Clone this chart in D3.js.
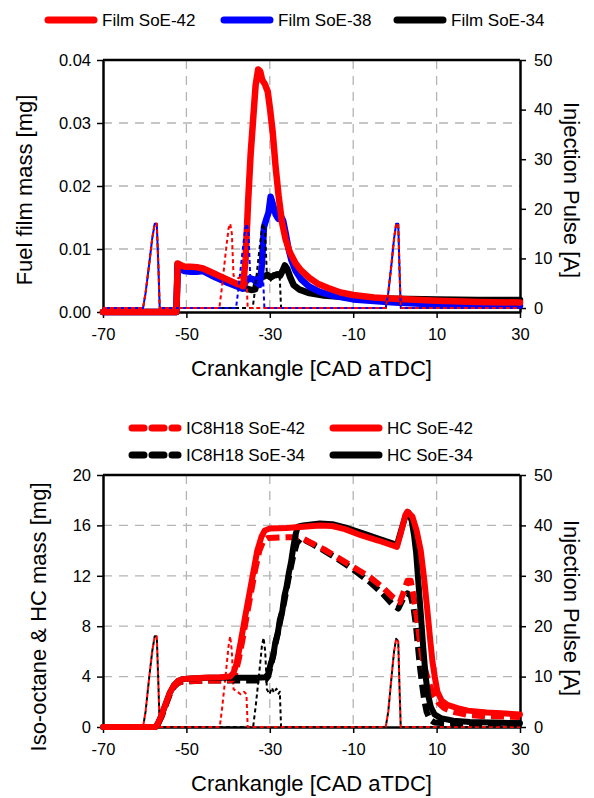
<!DOCTYPE html>
<meta charset="utf-8">
<script src="https://d3js.org/d3.v7.min.js"></script>
<style>
body { margin: 0; background: #fff; }
svg { font-family: "Liberation Sans", Arial, sans-serif; }
.tick text { font-size: 16.5px; fill: #000; }
.grid line { stroke: #b4b4b4; stroke-width: 1.3; stroke-dasharray: 9,7; }
.ttl { font-size: 22px; }
.leg { font-size: 17px; }
</style>
<svg width="594" height="798"></svg>
<script>

// ---------- top chart: fuel film mass [mg] vs crankangle ----------
var film42 = [[-70,0],[-52.4,0],[-52.1,0.0077],[-51.5,0.0075],[-50.5,0.0072],[-49,0.0072],[-47.5,0.0071],[-46,0.0069],[-44,0.0063],[-42,0.0057],[-40,0.0051],[-38,0.0045],[-36.4,0.0041],[-35.8,0.0085],[-35.2,0.0175],[-34.6,0.025],[-34,0.0305],[-33.4,0.036],[-32.8,0.0385],[-32.3,0.0382],[-31.8,0.0368],[-31.2,0.0362],[-30.5,0.035],[-29.9,0.032],[-29.3,0.0285],[-28.6,0.023],[-27.9,0.0185],[-27.1,0.0143],[-26.2,0.0115],[-25.2,0.0095],[-23.8,0.0077],[-22.5,0.0066],[-20.5,0.0054],[-18.5,0.0045],[-16,0.0038],[-13,0.0031],[-10,0.0027],[-5,0.0023],[0,0.0021],[10,0.0018],[20,0.0016],[30,0.0015]];
var film38 = [[-70,0],[-52.4,0],[-52.1,0.0072],[-51.5,0.0068],[-50.5,0.0065],[-49,0.0064],[-47.5,0.0064],[-46,0.0065],[-44,0.0058],[-42,0.0052],[-40,0.0046],[-38,0.0041],[-36.5,0.0037],[-35.8,0.0048],[-35,0.0053],[-34,0.0052],[-33.2,0.0047],[-32.4,0.0043],[-31.9,0.0075],[-31.4,0.0135],[-30.8,0.0148],[-30.3,0.0158],[-29.8,0.0183],[-29.3,0.0172],[-28.6,0.0155],[-28,0.0148],[-27.4,0.0153],[-26.8,0.0145],[-26.2,0.0125],[-25.5,0.01],[-24.8,0.0082],[-23.8,0.0065],[-22.5,0.0052],[-20.5,0.004],[-18,0.0032],[-15,0.0026],[-10,0.002],[0,0.0015],[10,0.0012],[20,0.0011],[30,0.001]];
var film34 = [[-70,0],[-52.4,0],[-52.1,0.0076],[-51.5,0.0074],[-50.5,0.0071],[-49,0.0071],[-47.5,0.007],[-46,0.0068],[-44,0.0062],[-42,0.0056],[-40,0.005],[-38,0.0044],[-36,0.0038],[-34.5,0.0035],[-33.5,0.0036],[-33,0.0052],[-32.4,0.0058],[-31.5,0.0056],[-30.6,0.0059],[-29.8,0.0055],[-29,0.0058],[-28.2,0.006],[-27.5,0.0058],[-26.9,0.0066],[-26.4,0.0074],[-25.8,0.0068],[-25.1,0.0055],[-24.3,0.0043],[-23,0.0036],[-20.5,0.003],[-17,0.0026],[-13,0.0024],[-8,0.0022],[0,0.0021],[10,0.002],[20,0.0019],[30,0.0019]];

// injection pulse [A]
var pulse42T = [[-70,0],[-60.4,0],[-59.8,3],[-58.9,9],[-58.2,14],[-57.6,17],[-57.1,17],[-56.7,8],[-56.4,0],[-42.1,0],[-41.5,4],[-40.6,11],[-39.9,16],[-39.5,17],[-39.1,15],[-38.7,6.5],[-37.5,6],[-36.5,6.5],[-35.6,6],[-35.3,0],[-2.2,0],[-1.6,3],[-0.8,9],[-0.2,14],[0.3,17],[0.8,17],[1.1,8],[1.4,0],[30,0]];
var pulse38T = [[-70,0],[-60.4,0],[-59.8,3],[-58.9,9],[-58.2,14],[-57.6,17],[-57.1,17],[-56.7,8],[-56.4,0],[-38.1,0],[-37.5,4],[-36.6,11],[-35.9,16],[-35.5,17],[-35.1,15],[-34.7,6.5],[-33.5,6],[-32.5,6.5],[-31.6,6],[-31.3,0],[-2.2,0],[-1.6,3],[-0.8,9],[-0.2,14],[0.3,17],[0.8,17],[1.1,8],[1.4,0],[30,0]];
var pulse34T = [[-70,0],[-60.4,0],[-59.8,3],[-58.9,9],[-58.2,14],[-57.6,17],[-57.1,17],[-56.7,8],[-56.4,0],[-34.1,0],[-33.5,4],[-32.6,11],[-31.9,16],[-31.5,17],[-31.1,15],[-30.7,6.5],[-29.8,5.5],[-29.2,7],[-28.6,6],[-28,6.8],[-27.6,6],[-27.3,0],[-2.2,0],[-1.6,3],[-0.8,9],[-0.2,14],[0.3,17],[0.8,17],[1.1,8],[1.4,0],[30,0]];

// ---------- bottom chart: iso-octane & HC mass [mg] ----------
var ic42 = [[-70,0],[-57.4,0],[-56.8,0.25],[-56,0.8],[-55,1.7],[-54,2.6],[-53,3.2],[-52,3.5],[-51,3.6],[-48,3.65],[-44,3.7],[-40,3.7],[-39,3.75],[-38.3,4.2],[-37.5,5.3],[-36.5,7],[-35.5,8.9],[-34.5,10.7],[-33.5,12.5],[-32.5,14],[-31.5,14.8],[-30.5,15],[-26,15.05],[-22.5,15.05],[-20,14.6],[-17,14.1],[-14,13.5],[-10,12.7],[-6,11.9],[-3,11.1],[-0.5,10.3],[1.2,9.9],[2.2,10.8],[3,11.6],[3.8,11.6],[4.5,10.3],[5.2,8.9],[6,6.8],[6.8,5.1],[7.8,3.9],[8.6,3.1],[9.4,2.5],[10.5,1.9],[11.8,1.5],[14,1.2],[17.5,0.95],[22,0.85],[30,0.8]];
var hc42 = [[-70,0],[-57.4,0],[-56.8,0.3],[-56,0.9],[-55,1.8],[-54,2.7],[-53,3.3],[-52,3.65],[-51,3.8],[-49,3.85],[-46,3.9],[-42,3.95],[-39.5,4],[-38.7,4.3],[-38,5],[-37,6.7],[-36,8.6],[-35,10.4],[-34,12.2],[-33,14],[-32,15.1],[-31.2,15.6],[-30,15.75],[-26,15.8],[-22,15.9],[-18,16],[-15,15.95],[-12,15.7],[-8,15.2],[-4,14.8],[0.5,14.3],[1.5,15.5],[2.5,16.8],[3,17.1],[4.2,16.7],[5.2,15.6],[6.2,14],[7,11.8],[7.8,9.2],[8.5,6.8],[9,5.2],[9.6,3.9],[10.2,2.8],[11.2,2.1],[12.6,1.75],[15,1.5],[17.5,1.3],[22,1.15],[30,1]];
var ic34 = [[-70,0],[-57.4,0],[-56.8,0.25],[-56,0.8],[-55,1.7],[-54,2.6],[-53,3.2],[-52,3.5],[-51,3.6],[-48,3.65],[-44,3.7],[-38,3.7],[-33,3.7],[-31,3.75],[-30.4,4],[-29.5,5.2],[-28.5,6.8],[-27.5,8.4],[-26.5,10],[-25.5,11.8],[-24.5,13.4],[-23.5,14.6],[-22.5,15],[-20,14.55],[-17,14],[-14,13.4],[-10,12.5],[-6,11.5],[-3,10.6],[-0.5,9.7],[0.8,9.4],[2,10.2],[3,10.6],[3.8,10.4],[4.4,9.6],[5,8.2],[5.5,6.5],[6,4.8],[6.5,3.4],[7,2.2],[7.6,1.2],[8.4,0.6],[9.5,0.35],[12,0.3],[30,0.3]];
var hc34 = [[-70,0],[-57.4,0],[-56.8,0.3],[-56,0.9],[-55,1.8],[-54,2.7],[-53,3.3],[-52,3.65],[-51,3.8],[-49,3.85],[-45,3.9],[-40,3.9],[-36,3.9],[-33,3.9],[-31,3.95],[-30.4,4.2],[-29.8,5],[-29.2,5.6],[-28.7,6.7],[-28.1,7.4],[-27.6,8.5],[-27,9.2],[-26.5,10.4],[-26,11.1],[-25.4,12.3],[-24.9,13.1],[-24.3,14.4],[-23.8,15.3],[-23.3,15.9],[-22,16],[-18,16.15],[-15,16.1],[-12,15.85],[-8,15.4],[-4,14.95],[0.5,14.45],[1.5,15.6],[2.5,16.7],[3.3,17],[4,16.4],[4.6,15.2],[5.1,13.8],[5.6,11.6],[6.2,9],[6.8,6.3],[7.4,3.9],[8,2.5],[8.6,1.6],[9.5,1],[11,0.7],[14,0.5],[18,0.4],[30,0.3]];

var pulse42B = [[-70,0],[-60.4,0],[-59.8,3],[-58.9,10],[-58.2,15],[-57.6,18],[-57.1,18],[-56.7,8],[-56.4,0],[-42,0],[-41.4,4],[-40.5,11],[-39.9,16],[-39.5,18],[-39.1,15],[-38.7,7.5],[-37.8,7],[-37,6.5],[-36.2,7],[-35.6,6.5],[-35.3,0],[-2.2,0],[-1.6,3],[-0.8,10],[-0.2,15],[0.3,17.5],[0.8,17],[1.1,8],[1.4,0],[30,0]];
var pulse34B = [[-70,0],[-60.4,0],[-59.8,3],[-58.9,10],[-58.2,15],[-57.6,18],[-57.1,18],[-56.7,8],[-56.4,0],[-34,0],[-33.4,4],[-32.5,11],[-31.9,16],[-31.5,17.7],[-31.1,15],[-30.7,7.5],[-30.1,6.5],[-29.5,7.8],[-29,6.8],[-28.4,7.6],[-27.9,6.6],[-27.6,7],[-27.3,0],[-2.2,0],[-1.6,3],[-0.8,10],[-0.2,15],[0.3,17.5],[0.8,17],[1.1,8],[1.4,0],[30,0]];

var xTicks = [-70,-50,-30,-10,10,30];
var xGrid = [-50,-30,-10,10];
var filmTicks = [0,0.01,0.02,0.03,0.04];
var massTicks = [0,4,8,12,16,20];
var pulseTicks = [0,10,20,30,40,50];

var svg = d3.select("svg");
var left = 103, right = 520;

// plain hyphen for negatives, like the original
function plain(d) { return String(d); }

function chart(top, bottom, yDom, yTicks, yFmt, rDom, yTitle, titleX, titleY, rTitleY) {
  var x = d3.scaleLinear().domain([-70,30]).range([left,right]);
  var y = d3.scaleLinear().domain(yDom).range([bottom,top]);
  var yr = d3.scaleLinear().domain(rDom).range([bottom,top]);
  var g = svg.append("g");

  // gridlines
  g.append("g").attr("class","grid").selectAll("line")
    .data(xGrid).enter().append("line")
    .attr("x1", function(d){ return x(d); }).attr("x2", function(d){ return x(d); })
    .attr("y1", top).attr("y2", bottom);
  g.append("g").attr("class","grid").selectAll("line")
    .data(yTicks.slice(1,-1)).enter().append("line")
    .attr("y1", function(d){ return y(d); }).attr("y2", function(d){ return y(d); })
    .attr("x1", left).attr("x2", right);

  // frame top
  g.append("line").attr("x1",left).attr("x2",right).attr("y1",top).attr("y2",top)
    .attr("stroke","#000").attr("stroke-width",2.5);

  var ax = g.append("g").attr("transform","translate(0,"+bottom+")")
    .call(d3.axisBottom(x).tickValues(xTicks).tickFormat(plain).tickSize(6).tickSizeOuter(0).tickPadding(10));
  var ay = g.append("g").attr("transform","translate("+left+",0)")
    .call(d3.axisLeft(y).tickValues(yTicks).tickFormat(yFmt).tickSize(6).tickSizeOuter(0).tickPadding(6));
  var ar = g.append("g").attr("transform","translate("+right+",0)")
    .call(d3.axisRight(yr).tickValues(pulseTicks).tickFormat(plain).tickSize(6).tickSizeOuter(0).tickPadding(8));
  [ax,ay,ar].forEach(function(a){
    a.select(".domain").attr("stroke-width",2.5);
    a.selectAll(".tick line").attr("stroke-width",1.5);
  });

  g.append("text").attr("class","ttl").attr("text-anchor","middle")
    .attr("x",(left+right)/2).attr("y",bottom+64).text("Crankangle [CAD aTDC]");
  g.append("text").attr("class","ttl").attr("text-anchor","middle")
    .attr("transform","translate("+titleX+","+titleY+") rotate(-90)").text(yTitle);
  g.append("text").attr("class","ttl").attr("text-anchor","middle")
    .attr("transform","translate(564,"+rTitleY+") rotate(90)").text("Injection Pulse [A]");

  return {g:g, x:x, y:y, yr:yr};
}

function draw(c, data, scale, color, width, dash, offset) {
  var line = d3.line()
    .x(function(d){ return c.x(d[0]); })
    .y(function(d){ return scale(d[1]); });
  c.g.append("path").datum(data)
    .attr("d", line)
    .attr("fill","none")
    .attr("stroke", color)
    .attr("stroke-width", width)
    .attr("stroke-linejoin","round")
    .attr("stroke-linecap", dash ? "butt" : "round")
    .attr("stroke-dasharray", dash || null)
    .attr("stroke-dashoffset", offset || 0);
}

// top chart
var c1 = chart(60, 312, [0,0.04], filmTicks, d3.format(".2f"), [-0.8,50], "Fuel film mass [mg]", 32, 190, 190);
draw(c1, film34, c1.y, "#000", 6.5);
draw(c1, film38, c1.y, "#0000ff", 6.5);
draw(c1, film42, c1.y, "#ff0000", 6.5);
draw(c1, pulse34T, c1.yr, "#000", 2, "4,3", 0);
draw(c1, pulse38T, c1.yr, "#0000ff", 2, "4,3", 3.5);
draw(c1, pulse42T, c1.yr, "#ff0000", 2, "4,3", 0);

// bottom chart
var c2 = chart(475, 727, [0,20], massTicks, plain, [0,50], "Iso-octane & HC mass [mg]", 46, 617, 608);
draw(c2, pulse34B, c2.yr, "#000", 2, "4,3", 3.5);
draw(c2, pulse42B, c2.yr, "#ff0000", 2, "4,3", 0);
draw(c2, ic34, c2.y, "#000", 6, "13,6");
draw(c2, ic42, c2.y, "#ff0000", 6, "13,6");
draw(c2, hc34, c2.y, "#000", 6);
draw(c2, hc42, c2.y, "#ff0000", 6);

// legends
var legTop = [
  {name:"Film SoE-42", color:"#ff0000", x:44, y:20},
  {name:"Film SoE-38", color:"#0000ff", x:220, y:20},
  {name:"Film SoE-34", color:"#000", x:393, y:20}
];
var legBottom = [
  {name:"IC8H18 SoE-42", color:"#ff0000", x:128, y:428, dash:true},
  {name:"HC SoE-42", color:"#ff0000", x:329, y:428},
  {name:"IC8H18 SoE-34", color:"#000", x:128, y:455, dash:true},
  {name:"HC SoE-34", color:"#000", x:329, y:455}
];
var lg = svg.append("g").selectAll("g").data(legTop.concat(legBottom)).enter().append("g")
  .attr("transform", function(d){ return "translate("+d.x+","+d.y+")"; });
lg.append("line").attr("x1",4).attr("x2",50)
  .attr("stroke", function(d){ return d.color; })
  .attr("stroke-width",7).attr("stroke-linecap","round")
  .attr("stroke-dasharray", function(d){ return d.dash ? "12,8" : null; });
lg.append("text").attr("class","leg").attr("x",58).attr("y",6)
  .text(function(d){ return d.name; });

</script>
